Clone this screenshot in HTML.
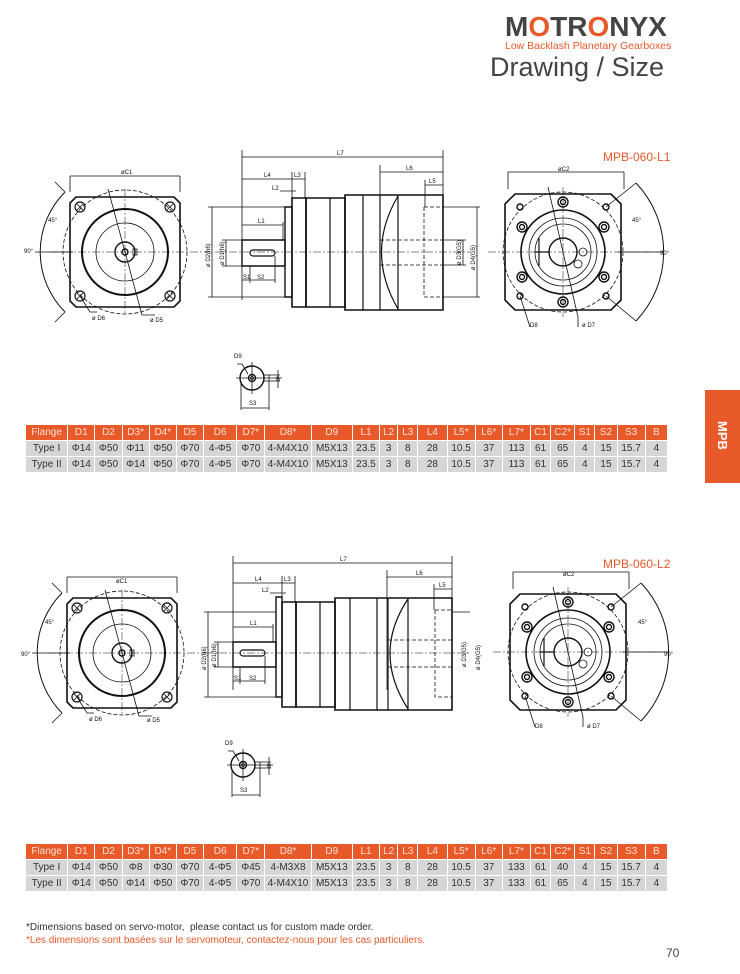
<!DOCTYPE html>
<html><head><meta charset="utf-8"><style>
body{margin:0;width:740px;height:974px;background:#fff;position:relative;overflow:hidden;font-family:"Liberation Sans",sans-serif}
.abs{position:absolute}
table{position:absolute;border-collapse:collapse;table-layout:fixed;font-size:10px;color:#333}
td{border:1.5px solid #fff;text-align:center;padding:0;height:15px;line-height:15px;background:#d6d6d6;white-space:nowrap;overflow:hidden}
tr.h td{background:#e85a2a;color:#fbe0d4}
</style></head><body>
<div class="abs" style="left:505px;top:12px;font-size:28px;font-weight:bold;color:#444;letter-spacing:0px;line-height:30px">M<span style="color:#e85a2a">O</span>TR<span style="color:#e85a2a">O</span>NYX</div>
<div class="abs" style="left:505px;top:40px;font-size:10.5px;color:#e85a2a">Low Backlash Planetary Gearboxes</div>
<div class="abs" style="left:490px;top:52px;font-size:27px;color:#444">Drawing / Size</div>
<div class="abs" style="left:705px;top:390px;width:35px;height:93px;background:#e85a2a"></div>
<div class="abs" style="left:707px;top:428px;width:31px;text-align:center;transform:rotate(90deg);color:#fff;font-weight:bold;font-size:13px">MPB</div>
<div class="abs" style="left:603px;top:150px;font-size:12px;color:#e85a2a">MPB-060-L1</div>
<div class="abs" style="left:603px;top:557px;font-size:12px;color:#e85a2a">MPB-060-L2</div>

<svg class="abs" style="left:0;top:0" width="740" height="974" viewBox="0 0 740 974" font-family="Liberation Sans" font-size="6" fill="none" stroke="#111" stroke-width="0.8">
<defs>
<g id="lf">
<path d="M-49,-55H49L55,-49V49L49,55H-49L-55,49V-49Z" stroke-width="1.6"/>
<circle r="62" stroke-dasharray="4 2"/>
<circle r="43" stroke-width="2"/>
<circle r="29"/>
<circle r="10" stroke-width="1.4"/>
<circle r="3" stroke-width="1.4"/>
<rect x="8" y="-3" width="4" height="6"/>
<path d="M-75,0H85M0,-63V63" stroke-width="0.5" stroke-dasharray="8 2 2 2"/>
<g stroke-width="1.2"><circle cx="-45" cy="-45" r="5"/><circle cx="45" cy="-45" r="5"/><circle cx="-45" cy="44" r="5"/><circle cx="45" cy="44" r="5"/></g>
<path d="M-48,-48L-42,-42M-48,-42L-42,-48M42,-48L48,-42M42,-42L48,-48M-48,41L-42,47M-48,47L-42,41M42,41L48,47M42,47L48,41" stroke-width="0.8"/>
<path d="M-55,-60V-76M55,-60V-76M-55,-76H55"/>
<path d="M-60,-60A85,85 0 0 0 -60,60" stroke-width="1"/>
<path d="M-60,-60L-70,-70M-60,60L-70,70M-52,0H-90M-17,-63L17,63M-45,44L-35,60H-28M17,63H30"/>
</g>
<g id="rf">
<path d="M-48,-58H48L58,-48V48L48,58H-48L-58,48V-48Z" stroke-width="1.6"/>
<circle r="60" stroke-dasharray="4 2"/>
<circle r="42" stroke-width="1.6"/>
<circle r="34"/>
<circle r="28"/>
<circle r="14" stroke-width="1.4"/>
<circle cx="20" cy="0" r="4"/><circle cx="15" cy="12" r="4"/>
<path d="M-28,0H-14M-24,-14V14" stroke-width="1.2"/>
<path d="M-75,0H100M0,-65V65" stroke-width="0.5" stroke-dasharray="8 2 2 2"/>
<g stroke-width="1.4">
<circle cx="0" cy="-50" r="5"/><circle cx="0" cy="-50" r="2.5"/>
<circle cx="0" cy="50" r="5"/><circle cx="0" cy="50" r="2.5"/>
<circle cx="-41" cy="-25" r="5"/><circle cx="-41" cy="-25" r="2.5"/>
<circle cx="41" cy="-25" r="5"/><circle cx="41" cy="-25" r="2.5"/>
<circle cx="-41" cy="25" r="5"/><circle cx="-41" cy="25" r="2.5"/>
<circle cx="41" cy="25" r="5"/><circle cx="41" cy="25" r="2.5"/>
<circle cx="-43" cy="-45" r="3"/><circle cx="43" cy="-45" r="3"/><circle cx="-43" cy="44" r="3"/><circle cx="43" cy="44" r="3"/>
</g>
<path d="M-55,-63V-80M61,-63V-80M-55,-80H61"/>
<path d="M73,-69A100,100 0 0 1 73,69" stroke-width="1"/>
<path d="M43,-45L73,-69M43,44L73,69M55,0H100M-15,-65L15,65M-43,44L-33,75M15,65V75"/>
</g>
<g id="key">
<circle r="12" stroke-width="1.4"/><circle r="3.5" stroke-width="1.4"/><circle r="1.5"/>
<rect x="12" y="-3" width="5" height="6"/>
<path d="M-16,0H30M0,-16V16M-11,6V32M17,3V32M-11,30H17M17,-3H28M17,3H28M26,-8V10M-4,-4L-10,-14H-15"/>
</g>
</defs>

<use href="#lf" x="125" y="252"/>
<use href="#rf" x="563" y="252"/>
<use href="#key" x="252" y="378"/>
<g>
<path d="M242,240H285V266H242Z" stroke-width="1.4"/>
<rect x="250" y="250" width="25" height="6" rx="3" stroke-width="1.2"/>
<path d="M285,207H292V297H285Z" stroke-width="1.4"/>
<path d="M292,198H306V307H292Z" stroke-width="1.6"/>
<path d="M306,198H345V307H306Z" stroke-width="1.6"/>
<path d="M345,195H443V310H345Z" stroke-width="1.6"/>
<path d="M330,198V307M363,195V310M380,195V310M398,195V310" stroke-width="1.2"/>
<path d="M398,196Q365,252 398,309" stroke-width="1.2"/>
<path d="M424,207V297H443M424,207H443M380,240H443M380,265H443" stroke-dasharray="4 2"/>
<path d="M215,252H470" stroke-width="0.5" stroke-dasharray="8 2 2 2"/>
<path d="M242,150V300M443,150V200M242,157H443M242,179H305M292,172V200M305,172V198M280,191H296M242,225H283M283,222V240M242,280H275M250,266V283M275,256V283M380,165V300M380,172H443M425,180V207M425,185H443M208,207H285M208,297H285M212,207V297M222,240H242M222,266H242M226,240V266M443,207H480M443,297H480M477,207V297M443,240H466M443,265H466M463,240V265"/>
</g>
<g fill="#111" stroke="none" font-size="6">
<text x="121" y="174">øC1</text><text x="48" y="222">45°</text><text x="24" y="253">90°</text>
<text x="92" y="320">ø D6</text><text x="150" y="322">ø D5</text>
<text x="337" y="155">L7</text><text x="264" y="177">L4</text><text x="294" y="177">L3</text><text x="272" y="190">L2</text><text x="258" y="223">L1</text>
<text x="243" y="279">S1</text><text x="257" y="279">S2</text><text x="406" y="170">L6</text><text x="429" y="183">L5</text>
<text x="558" y="171">øC2</text><text x="632" y="222">45°</text><text x="660" y="255">90°</text>
<text x="530" y="327">D8</text><text x="582" y="327">ø D7</text>
<text x="234" y="358">D9</text><text x="249" y="405">S3</text><text x="276" y="381">B</text>
<text transform="translate(210,267) rotate(-90)">ø D2(h6)</text><text transform="translate(224,265) rotate(-90)">ø D1(h6)</text>
<text transform="translate(461,265) rotate(-90)">ø D3(G5)</text><text transform="translate(475,270) rotate(-90)">ø D4(G5)</text>
</g>

<use href="#lf" x="122" y="653"/>
<use href="#rf" x="568" y="652"/>
<use href="#key" x="243" y="765"/>
<g>
<path d="M233,642H276V667H233Z" stroke-width="1.4"/>
<rect x="240" y="650" width="25" height="6" rx="3" stroke-width="1.2"/>
<path d="M276,597H282V697H276Z" stroke-width="1.4"/>
<path d="M282,602H296V707H282Z" stroke-width="1.6"/>
<path d="M296,602H335V707H296Z" stroke-width="1.6"/>
<path d="M335,598H452V710H335Z" stroke-width="1.6"/>
<path d="M320,602V707M350,598V710M377,598V710M388,598V710M408,598V710" stroke-width="1.2"/>
<path d="M408,599Q372,653 408,709" stroke-width="1.2"/>
<path d="M435,610V697H452M435,610H452M388,640H452M388,667H452" stroke-dasharray="4 2"/>
<path d="M205,653H470" stroke-width="0.5" stroke-dasharray="8 2 2 2"/>
<path d="M233,556V690M452,556V600M233,563H452M233,583H295M282,576V600M295,576V602M270,593H286M233,627H273M273,624V642M233,681H265M240,667V684M265,656V684M387,570V690M387,577H452M434,584V610M434,589H452M204,612H276M204,697H276M208,612V697M214,642H233M214,667H233M218,642V667M452,612H470"/>
</g>
<g fill="#111" stroke="none" font-size="6">
<text x="116" y="583">øC1</text><text x="45" y="624">45°</text><text x="21" y="656">90°</text>
<text x="89" y="721">ø D6</text><text x="147" y="722">ø D5</text>
<text x="340" y="561">L7</text><text x="255" y="581">L4</text><text x="284" y="581">L3</text><text x="262" y="592">L2</text><text x="250" y="625">L1</text>
<text x="234" y="680">S1</text><text x="249" y="680">S2</text><text x="416" y="575">L6</text><text x="439" y="587">L5</text>
<text x="563" y="576">øC2</text><text x="638" y="624">45°</text><text x="664" y="656">90°</text>
<text x="535" y="728">D8</text><text x="587" y="728">ø D7</text>
<text x="225" y="745">D9</text><text x="240" y="792">S3</text><text x="267" y="768">B</text>
<text transform="translate(206,670) rotate(-90)">ø D2(h6)</text><text transform="translate(216,667) rotate(-90)">ø D1(h6)</text>
<text transform="translate(466,667) rotate(-90)">ø D3(G5)</text><text transform="translate(480,670) rotate(-90)">ø D4(G5)</text>
</g>
</svg>

<table style="left:25px;top:424px;width:643px">
<colgroup><col style="width:42px"><col style="width:27px"><col style="width:27px"><col style="width:27px"><col style="width:27px"><col style="width:27px"><col style="width:33px"><col style="width:28px"><col style="width:46px"><col style="width:41px"><col style="width:27px"><col style="width:18px"><col style="width:20px"><col style="width:29px"><col style="width:28px"><col style="width:27px"><col style="width:28px"><col style="width:20px"><col style="width:24px"><col style="width:20px"><col style="width:22px"><col style="width:28px"><col style="width:22px"></colgroup>
<tr class="h"><td>Flange</td><td>D1</td><td>D2</td><td>D3*</td><td>D4*</td><td>D5</td><td>D6</td><td>D7*</td><td>D8*</td><td>D9</td><td>L1</td><td>L2</td><td>L3</td><td>L4</td><td>L5*</td><td>L6*</td><td>L7*</td><td>C1</td><td>C2*</td><td>S1</td><td>S2</td><td>S3</td><td>B</td></tr>
<tr><td>Type I</td><td>Φ14</td><td>Φ50</td><td>Φ11</td><td>Φ50</td><td>Φ70</td><td>4-Φ5</td><td>Φ70</td><td>4-M4X10</td><td>M5X13</td><td>23.5</td><td>3</td><td>8</td><td>28</td><td>10.5</td><td>37</td><td>113</td><td>61</td><td>65</td><td>4</td><td>15</td><td>15.7</td><td>4</td></tr>
<tr><td>Type II</td><td>Φ14</td><td>Φ50</td><td>Φ14</td><td>Φ50</td><td>Φ70</td><td>4-Φ5</td><td>Φ70</td><td>4-M4X10</td><td>M5X13</td><td>23.5</td><td>3</td><td>8</td><td>28</td><td>10.5</td><td>37</td><td>113</td><td>61</td><td>65</td><td>4</td><td>15</td><td>15.7</td><td>4</td></tr>
</table>

<table style="left:25px;top:843px;width:643px">
<colgroup><col style="width:42px"><col style="width:27px"><col style="width:27px"><col style="width:27px"><col style="width:27px"><col style="width:27px"><col style="width:33px"><col style="width:28px"><col style="width:46px"><col style="width:41px"><col style="width:27px"><col style="width:18px"><col style="width:20px"><col style="width:29px"><col style="width:28px"><col style="width:27px"><col style="width:28px"><col style="width:20px"><col style="width:24px"><col style="width:20px"><col style="width:22px"><col style="width:28px"><col style="width:22px"></colgroup>
<tr class="h"><td>Flange</td><td>D1</td><td>D2</td><td>D3*</td><td>D4*</td><td>D5</td><td>D6</td><td>D7*</td><td>D8*</td><td>D9</td><td>L1</td><td>L2</td><td>L3</td><td>L4</td><td>L5*</td><td>L6*</td><td>L7*</td><td>C1</td><td>C2*</td><td>S1</td><td>S2</td><td>S3</td><td>B</td></tr>
<tr><td>Type I</td><td>Φ14</td><td>Φ50</td><td>Φ8</td><td>Φ30</td><td>Φ70</td><td>4-Φ5</td><td>Φ45</td><td>4-M3X8</td><td>M5X13</td><td>23.5</td><td>3</td><td>8</td><td>28</td><td>10.5</td><td>37</td><td>133</td><td>61</td><td>40</td><td>4</td><td>15</td><td>15.7</td><td>4</td></tr>
<tr><td>Type II</td><td>Φ14</td><td>Φ50</td><td>Φ14</td><td>Φ50</td><td>Φ70</td><td>4-Φ5</td><td>Φ70</td><td>4-M4X10</td><td>M5X13</td><td>23.5</td><td>3</td><td>8</td><td>28</td><td>10.5</td><td>37</td><td>133</td><td>61</td><td>65</td><td>4</td><td>15</td><td>15.7</td><td>4</td></tr>
</table>

<div class="abs" style="left:26px;top:922px;font-size:10px;color:#333">*Dimensions based on servo-motor,&nbsp; please contact us for custom made order.</div>
<div class="abs" style="left:26px;top:935px;font-size:10px;color:#e85a2a">*Les dimensions sont basées sur le servomoteur, contactez-nous pour les cas particuliers.</div>
<div class="abs" style="left:666px;top:946px;font-size:12px;color:#444">70</div>
</body></html>
